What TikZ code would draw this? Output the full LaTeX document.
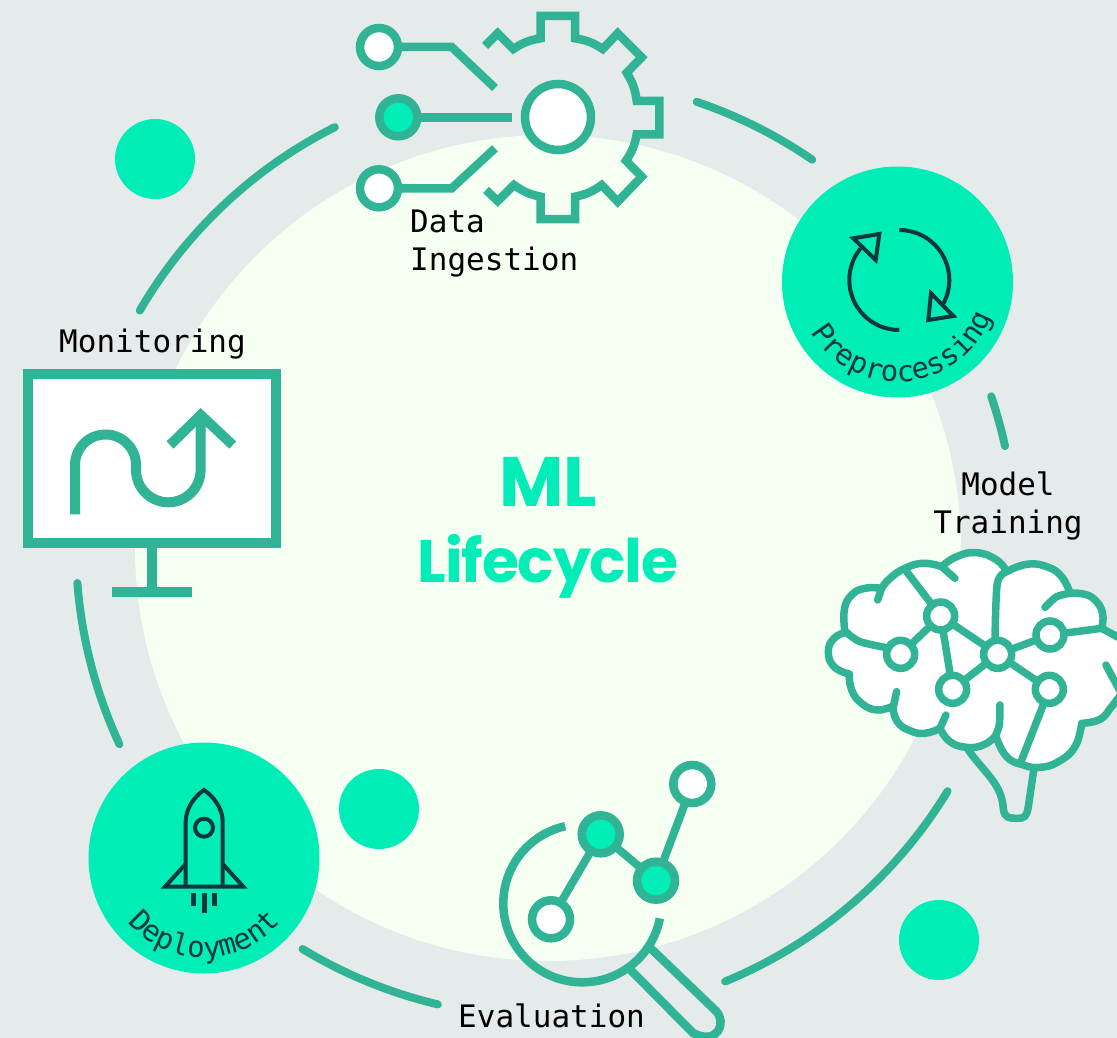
\documentclass[tikz,border=0pt]{standalone}
\usepackage{fontspec}
\newfontfamily\tagfont{DejaVu Sans Mono}
\newfontfamily\titlefont{Poppins Bold}
\usetikzlibrary{decorations.text}
\definecolor{backgrey}{HTML}{E5EAEA}
\definecolor{paleglow}{HTML}{F5FFF2}
\definecolor{mint}{HTML}{00EDB8}
\definecolor{teal}{HTML}{30B495}
\definecolor{iconink}{HTML}{06383C}
\tikzset{
    ring/.style = {draw = teal, line width = 8pt, line cap = round},
    stroke/.style = {draw = teal, line width = 8.5pt},
    ink/.style = {draw = iconink, line width = 4pt},
    tag/.style = {font = \tagfont\fontsize{31}{38}\selectfont, text = black, inner sep = 0pt},
    whitedot/.style = {circle, draw = teal, line width = 8.5pt, fill = white, minimum size = 38pt, inner sep = 0pt, outer sep = 0pt},
    mintdot/.style = {whitedot, fill = mint},
    brainnode/.style = {circle, draw = teal, line width = 7.5pt, fill = white, minimum size = 28pt, inner sep = 0pt, outer sep = 0pt},
    brainline/.style = {draw = teal, line width = 7.5pt, line cap = round},
    lobe/.style = {smooth, tension = 0.8}
}
\newcommand{\curvedtag}{\color{iconink}\tagfont\fontsize{29}{29}\selectfont}
\begin{document}
\begin{tikzpicture}[x = 1pt, y = -1pt]
    \clip (0, 0) rectangle (1117, 1038);
    \fill[backgrey] (0, 0) rectangle (1117, 1038);
    \fill[paleglow] (548, 548) circle (413);

    % ring pieces
    \foreach \from/\to in {-71.3/-55.5, -18.7/-12.4, 31.3/67.6, 103.3/121.2, 155.2/175.6, 210.2/243.3}
        \draw[ring] (546, 547) ++ (\from:470) arc[start angle = \from, end angle = \to, radius = 470];

    % loose dots
    \fill[mint] (155, 159) circle (40);
    \fill[mint] (379, 809) circle (40);
    \fill[mint] (939, 940) circle (40);

    % data ingestion
    \draw[stroke, miter limit = 4] (485, 46) -- (497.7, 33.3) -- (513.3, 49) to[bend left = 12] (540.7, 38.3) -- (540.7, 16) -- (575, 16) -- (575, 38.3)
        to[bend left = 12] (602.7, 49) -- (617.7, 33.3) -- (641.7, 57.3) -- (626.7, 72.7) to[bend left = 12] (636.7, 101) -- (659.3, 101) -- (659.3, 134.3)
        -- (636.7, 134.3) to[bend left = 12] (626, 160.7) -- (641.7, 176.7) -- (617.7, 201.7) -- (601.7, 185) to[bend left = 12] (575, 196.7) -- (575, 219)
        -- (540.7, 219) -- (540.7, 196.7) to[bend left = 12] (514, 185) -- (497.7, 201) -- (486, 190);
    \draw[stroke, fill = white] (558, 117) circle (33);
    \node[whitedot] (feedtop) at (379, 47) {};
    \node[mintdot] (feedmid) at (398.3, 117.3) {};
    \node[whitedot] (feedlow) at (379, 188.3) {};
    \coordinate (gearmid) at (512, 117.3);
    \draw[stroke] (feedtop) -- (451.7, 47) -- (495, 88);
    \draw[stroke] (feedmid) -- (gearmid);
    \draw[stroke] (feedlow) -- (451.7, 188.3) -- (495, 148.3);
    \node[tag, align = left, anchor = west] (ingest) at (410, 244) {Data\\Ingestion};

    % preprocessing
    \fill[mint] (897.5, 282) circle (115.5);
    \draw[ink] (899.3, 230) arc[start angle = -90, end angle = 28, radius = 50];
    \draw[ink] (899.3, 330) arc[start angle = 90, end angle = 219, radius = 50];
    \draw[ink, miter limit = 6] (931, 293.3) -- (953.3, 316) -- (928.3, 320) -- cycle;
    \draw[ink, miter limit = 6] (853.3, 238.3) -- (879.3, 234) -- (875.7, 260) -- cycle;
    \path[decorate, decoration = {text along path, text align = center, text = {|\curvedtag|Preprocessing}}]
        (897.5, 282) ++ (150:100) arc[start angle = 150, end angle = 20, radius = 100];

    % model training
    \node[tag, align = center, anchor = center] (train) at (1008, 506) {Model\\Training};
    \begin{scope}[shift = {(810, 530)}, x = 0.3333pt, y = -0.3333pt]
        \draw[brainline, line join = round, fill = white]
            plot[lobe] coordinates {(105, 308) (72, 325) (55, 365) (72, 410) (118, 432)}
            -- plot[lobe] coordinates {(118, 432) (125, 480) (155, 520) (200, 540) (245, 530)}
            -- plot[lobe] coordinates {(248, 530) (262, 575) (300, 602) (345, 610) (390, 595)}
            -- plot[lobe] coordinates {(390, 595) (420, 635) (470, 652) (520, 645) (555, 620)}
            -- plot[lobe] coordinates {(558, 620) (590, 680) (640, 705) (690, 712) (745, 695) (795, 650) (815, 580)}
            -- plot[lobe] coordinates {(815, 580) (870, 568) (905, 530) (950, 470)}
            -- (1000, 500) -- (1000, 340) -- (940, 330)
            -- plot[lobe] coordinates {(940, 330) (875, 295)}
            -- plot[lobe] coordinates {(875, 295) (878, 250) (855, 210) (820, 192) (780, 190)}
            -- plot[lobe] coordinates {(780, 190) (755, 140) (710, 110) (650, 103) (590, 125)}
            -- plot[lobe] coordinates {(590, 125) (560, 90) (500, 68) (440, 80) (395, 110)}
            -- plot[lobe] coordinates {(395, 110) (340, 100) (285, 115) (240, 145) (215, 175)}
            -- plot[lobe] coordinates {(215, 175) (165, 175) (125, 195) (103, 240) (105, 308)};
        % creases
        \draw[brainline] (215, 175) -- (203, 210);
        \draw[brainline] (395, 110) -- (435, 145);
        \draw[brainline] plot[smooth] coordinates {(705, 232) (740, 200) (780, 190)};
        \draw[brainline] plot[smooth] coordinates {(590, 125) (562, 160) (555, 330)};
        \draw[brainline] plot[smooth] coordinates {(107, 305) (150, 335) (240, 355)};
        \draw[brainline] plot[smooth] coordinates {(260, 485) (250, 530)};
        \draw[brainline] plot[smooth] coordinates {(408, 555) (390, 595)};
        \draw[brainline] plot[smooth] coordinates {(570, 525) (568, 585) (555, 620)};
        \draw[brainline] (888, 405) -- (950, 520);
        % stem
        \draw[brainline] (475, 660) .. controls (520, 725) and (575, 760) .. (580, 835)
            .. controls (582, 865) and (600, 865) .. (620, 865) .. controls (645, 865) and (650, 860) .. (655, 830) -- (672, 715);
        \node[brainnode] (nodea) at (392, 258) {};
        \node[brainnode] (nodeb) at (272, 373) {};
        \node[brainnode] (nodec) at (428, 478) {};
        \node[brainnode] (noded) at (563, 373) {};
        \node[brainnode] (nodee) at (720, 315) {};
        \node[brainnode] (nodef) at (718, 478) {};
        \coordinate (lobetop) at (290, 125);
        \coordinate (loberight) at (875, 295);
        \coordinate (lobelow) at (635, 690);
        \draw[brainline] (lobetop) -- (nodea);
        \draw[brainline] (nodea) -- (nodeb);
        \draw[brainline] (nodea) -- (nodec);
        \draw[brainline] (nodea) -- (noded);
        \draw[brainline] (nodec) -- (noded);
        \draw[brainline] (noded) -- (nodee);
        \draw[brainline] (noded) -- (nodef);
        \draw[brainline] (nodee) -- (loberight);
        \draw[brainline] (nodef) -- (lobelow);
    \end{scope}

    % evaluation
    \draw[stroke] (582.3, 903.3) ++ (11:79) arc[start angle = 11, end angle = 257.5, radius = 79];
    \draw[stroke] (650.7, 948.3) -- (716, 1011) .. controls (727, 1022) and (718, 1046) .. (693, 1033) -- (630.7, 970);
    \node[whitedot] (evala) at (551, 919.3) {};
    \node[mintdot] (evalb) at (600.7, 834.3) {};
    \node[mintdot] (evalc) at (656, 880.7) {};
    \node[whitedot] (evald) at (692.3, 784) {};
    \draw[stroke, line width = 8pt] (evala) -- (evalb);
    \draw[stroke, line width = 8pt] (evalb) -- (evalc);
    \draw[stroke, line width = 8pt] (evalc) -- (evald);
    \node[tag, anchor = base west] (evaltag) at (458, 1027) {Evaluation};

    % deployment
    \fill[mint] (204, 858) circle (115.5);
    \draw[ink] (185.7, 886.7) -- (185.7, 821.7) .. controls (185.7, 808) and (195, 796) .. (204, 790)
        .. controls (213, 796) and (222.7, 808) .. (222.7, 821.7) -- (222.7, 886.7);
    \draw[ink, line join = miter] (185.7, 864) -- (165, 886.7) -- (243.3, 886.7) -- (222.7, 864);
    \draw[ink] (204, 827.7) circle (9);
    \draw[ink, line width = 4.5pt] (193.3, 893.3) -- (193.3, 905.7);
    \draw[ink, line width = 4.5pt] (204.3, 893.3) -- (204.3, 913.3);
    \draw[ink, line width = 4.5pt] (214.3, 893.3) -- (214.3, 905.7);
    \path[decorate, decoration = {text along path, text align = center, text = {|\curvedtag|Deployment}}]
        (204, 858) ++ (150:100) arc[start angle = 150, end angle = 30, radius = 100];

    % monitoring
    \node[tag, anchor = base west] (monitortag) at (59, 352) {Monitoring};
    \draw[stroke, line width = 10pt, fill = white] (28, 374.3) rectangle (275.7, 542.7);
    \draw[stroke, line width = 10pt] (151.7, 547) -- (151.7, 592);
    \draw[stroke, line width = 10pt] (112, 592) -- (191.7, 592);
    \draw[stroke, line width = 10pt] (75, 514.3) -- (75, 465) arc[start angle = 180, end angle = 360, radius = 30.5]
        -- (136, 470) arc[start angle = 180, end angle = 0, radius = 32.3] -- (200.7, 415);
    \draw[stroke, line width = 10pt] (170, 445) -- (200.7, 415) -- (232.7, 445);

    % title
    \node[text = mint, align = center, inner sep = 0pt] (title) at (548, 528)
        {\titlefont\fontsize{70}{75}\selectfont ML\\[27pt]\titlefont\addfontfeatures{LetterSpace = -2}\fontsize{60}{75}\selectfont Lifecycle};
\end{tikzpicture}
\end{document}
